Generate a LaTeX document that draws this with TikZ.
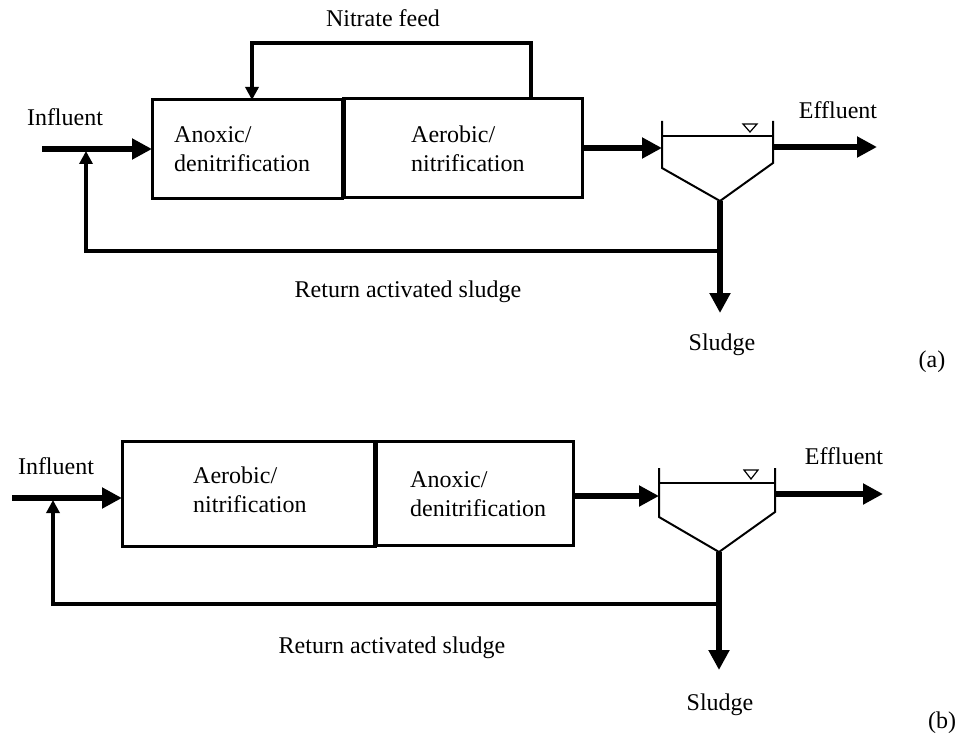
\documentclass[tikz,border=0pt]{standalone}
\usepackage{fontspec}
\setmainfont{Liberation Serif}
\usepackage{tikz}
\usetikzlibrary{arrows.meta}

\begin{document}
\begin{tikzpicture}[x=1pt,y=-1pt,
  lbl/.style={font=\fontsize{24}{29}\selectfont, inner sep=0pt},
  tank/.style={draw, line width=3pt, inner sep=0pt, outer sep=0pt},
  tanktext/.style={lbl, align=left, anchor=west},
  flow/.style={line width=6pt, -{Triangle[length=20pt,width=20pt]}},
  ret/.style={line width=3.5pt, -{Triangle[length=13pt,width=13pt]}},
  clar/.style={line width=2pt}]
\useasboundingbox (0,0) rectangle (957,738);

% (a)
\node[tank, minimum width=190pt, minimum height=98pt] (anoxA) at (247,149) {};
\node[tank, minimum width=239pt, minimum height=98pt] (aerA) at (462.5,148) {};
\draw[line width=5pt] (aerA.north west) -- (aerA.south west);
\node[tanktext] at (174,149) {Anoxic/\\denitrification};
\node[tanktext] at (411,149) {Aerobic/\\nitrification};

\draw[clar] (662,121) -- (662,168) -- (720,201) -- (773,163) -- (773,121);
\draw[clar] (662,136) -- (773,136);
\draw[line width=1.2pt] (743,124) -- (757,124) -- (750,132) -- cycle;
\coordinate (cinA) at (662,148);
\coordinate (coutA) at (773,147);
\coordinate (botA) at (720,201);
\coordinate (retA) at (720,251);

\node[lbl] (influentA) at (65,117) {Influent};
\node[lbl] (effluentA) at (838,110) {Effluent};
\node[lbl] (nitrate) at (383,18) {Nitrate feed};
\node[lbl] (rasA) at (408,292) {Return activated sludge};
\node[lbl] (sludgeA) at (722,345) {Sludge};
\node[lbl] (tagA) at (932,362) {(a)};

\coordinate (inA) at (42,149);
\coordinate (effA) at (877,147);
\coordinate (sluA) at (720,313);
\coordinate (upA) at (86,151);
\coordinate (nfR) at (531,43);
\coordinate (nfL) at (252,43);

\draw[flow] (inA) -- (anoxA.west);
\draw[flow] (aerA.east) -- (cinA);
\draw[flow] (coutA) -- (effA);
\draw[flow] (botA) -- (sluA);
\draw[ret] (retA) -| (upA);
\draw[ret] (aerA.north -| nfR) -- (nfR) -- (nfL) -- (anoxA.north -| nfL);

% (b)
\node[tank, minimum width=253pt, minimum height=105pt] (aerB) at (248.5,493.5) {};
\node[tank, minimum width=199pt, minimum height=104pt] (anoxB) at (473.5,493) {};
\draw[line width=5pt] (aerB.north east) -- (aerB.south east);
\node[tanktext] at (193,490) {Aerobic/\\nitrification};
\node[tanktext] at (410,494) {Anoxic/\\denitrification};

\draw[clar] (659,468) -- (659,517) -- (719,552) -- (775,512) -- (775,468);
\draw[clar] (659,483) -- (775,483);
\draw[line width=1.2pt] (744,470) -- (758,470) -- (751,479) -- cycle;
\coordinate (cinB) at (659,496);
\coordinate (coutB) at (775,494);
\coordinate (botB) at (719,552);
\coordinate (retB) at (719,604);

\node[lbl] (influentB) at (56,466) {Influent};
\node[lbl] (effluentB) at (844,456) {Effluent};
\node[lbl] (rasB) at (392,648) {Return activated sludge};
\node[lbl] (sludgeB) at (720,705) {Sludge};
\node[lbl] (tagB) at (942,723) {(b)};

\coordinate (inB) at (12,498);
\coordinate (effB) at (883,494);
\coordinate (sluB) at (719,670);
\coordinate (upB) at (53,500);

\draw[flow] (inB) -- (aerB.west |- inB);
\draw[flow] (anoxB.east |- cinB) -- (cinB);
\draw[flow] (coutB) -- (effB);
\draw[flow] (botB) -- (sluB);
\draw[ret] (retB) -| (upB);
\end{tikzpicture}
\end{document}
